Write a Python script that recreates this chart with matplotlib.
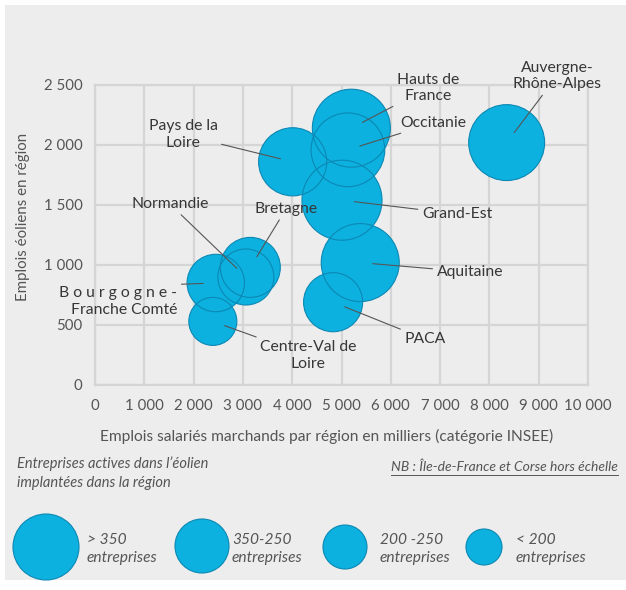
import matplotlib
matplotlib.use("Agg")
import matplotlib.pyplot as plt
from matplotlib.patches import Rectangle, Circle
from matplotlib.ticker import FuncFormatter

plt.rcParams['font.family'] = ['Lato', 'DejaVu Sans']

# données
regions = ["Auvergne-\nRhône-Alpes", "Hauts de\nFrance", "Occitanie", "Grand-Est",
           "Pays de la\nLoire", "Aquitaine", "Bretagne", "Normandie",
           "B o u r g o g n e -\nFranche Comté", "PACA", "Centre-Val de\nLoire"]
emplois_salaries = [8350, 5200, 5130, 5010, 4010, 5380, 3150, 3060, 2450, 4830, 2390]
emplois_eoliens = [2020, 2140, 1960, 1540, 1860, 1020, 980, 900, 850, 690, 530]
entreprises = [360, 380, 340, 400, 290, 380, 225, 196, 206, 218, 144]

legend_labels = ["> 350\nentreprises", "350-250\nentreprises",
                 "200 -250\nentreprises", "< 200\nentreprises"]

# position des étiquettes (coordonnées des données) + alignement
label_pos = [(9370, 2575, "center", (0.5, 0.5)),
             (6755, 2475, "center", (0.5, 0.5)),
             (6860, 2183, "center", (0.5, 0.5)),
             (7345, 1425, "center", (0.5, 0.5)),
             (1785, 2085, "center", (0.5, 0.5)),
             (7605, 942, "center", (0.5, 0.5)),
             (3875, 1467, "center", (0.5, 0.5)),
             (1520, 1508, "center", (0.5, 0.5)),
             (1670, 695, "right", (0.55, 1.0)),
             (6695, 383, "center", (0.5, 0.5)),
             (4320, 245, "center", (0.5, 0.5))]

blue = "#0cb1e0"
edge = "#0b88b3"
bg_col = "#ededed"
grid_col = "#d5d5d5"
txt = "#363636"
txt2 = "#555555"

W, H = 626, 590
fig = plt.figure(figsize=(W / 100, H / 100), dpi=100)
fig.patch.set_facecolor("white")

# calque de fond / légende en pixels
bg = fig.add_axes([0, 0, 1, 1], zorder=0)
bg.set_xlim(0, W)
bg.set_ylim(H, 0)
bg.axis("off")
bg.add_patch(Rectangle((5, 5), W - 5, 575, color=bg_col, lw=0))

ax = fig.add_axes([95 / W, 1 - 385 / H, 493 / W, 300 / H], zorder=1)
ax.set_facecolor(bg_col)
ax.set_xlim(0, 10000)
ax.set_ylim(0, 2500)
ax.set_xticks(range(0, 10001, 1000))
ax.set_yticks(range(0, 2501, 500))
fmt = FuncFormatter(lambda v, p: f"{int(v):,}".replace(",", " "))
ax.xaxis.set_major_formatter(fmt)
ax.yaxis.set_major_formatter(fmt)
ax.grid(True, color=grid_col, lw=1.6)
ax.set_axisbelow(True)
for s in ax.spines.values():
    s.set_color(grid_col)
    s.set_linewidth(1.6)
ax.tick_params(length=0, labelsize=10.8, labelcolor=txt2)
ax.tick_params(axis="y", pad=9)
ax.tick_params(axis="x", pad=10)

sizes = [e * 8.3 for e in entreprises]
ax.scatter(emplois_salaries, emplois_eoliens, s=sizes, color=blue, lw=0, zorder=3)
ax.scatter(emplois_salaries, emplois_eoliens, s=sizes, facecolor="none",
           edgecolor=edge, lw=0.8, zorder=4)

for name, x, y, (tx, ty, ha, rp) in zip(regions, emplois_salaries, emplois_eoliens, label_pos):
    ax.annotate(name, xy=(x, y), xytext=(tx, ty), ha=ha, va="center",
                multialignment="right" if ha == "right" else "center",
                fontsize=11.3, color=txt, linespacing=1.25, zorder=6,
                annotation_clip=False,
                arrowprops=dict(arrowstyle="-", color="#555555", lw=0.8,
                                shrinkA=1, shrinkB=9, relpos=rp))

# titres des axes
bg.text(23, 217, "Emplois éoliens en région", rotation=90, ha="center",
        va="center", fontsize=10.8, color=txt2)
bg.text(327, 436, "Emplois salariés marchands par région en milliers (catégorie INSEE)",
        ha="center", va="center", fontsize=11.2, color=txt2)

# légende
bg.text(17, 473, "Entreprises actives dans l’éolien\nimplantées dans la région",
        ha="left", va="center", fontsize=10.5, style="italic", color=txt2,
        linespacing=1.4)
nb = bg.text(618, 467, "NB : Île-de-France et Corse hors échelle", ha="right",
             va="center", fontsize=10, style="italic", color=txt2)

leg_circles = [(46, 547, 33), (202, 546, 27), (345, 547, 22), (484, 547, 18)]
leg_text_x = [87, 232, 380, 516]
for (cx, cy, r), tx, lab in zip(leg_circles, leg_text_x, legend_labels):
    bg.add_patch(Circle((cx, cy), r, facecolor=blue, edgecolor=edge, lw=0.8))
    bg.text(tx, 549, lab, ha="left", va="center", fontsize=11.2, style="italic",
            color=txt2, linespacing=1.4)

fig.canvas.draw()
bb = nb.get_window_extent()
bg.plot([bb.x0, bb.x1], [475, 475], color=txt2, lw=0.7)

fig.savefig("out.png", dpi=100, facecolor="white")
